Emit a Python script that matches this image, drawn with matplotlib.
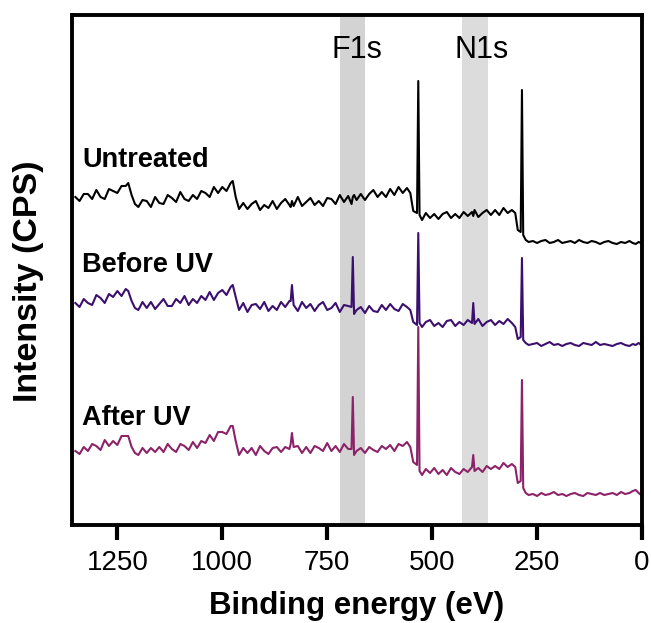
import numpy as np
import matplotlib
matplotlib.use("Agg")
import matplotlib.pyplot as plt

plt.rcParams['font.family'] = ['Liberation Sans', 'DejaVu Sans']

# Binding energy grid shared by the three survey spectra (eV)
binding_energy = [
    1350, 1340, 1330, 1320, 1310, 1300, 1290, 1280, 1270, 1260,
    1250, 1240, 1230, 1224, 1216, 1208, 1200, 1190, 1180, 1170,
    1160, 1150, 1140, 1130, 1120, 1110, 1100, 1090, 1080, 1070,
    1060, 1050, 1040, 1030, 1020, 1010, 1000, 990, 980, 975,
    968, 960, 950, 940, 930, 920, 910, 900, 890, 880,
    870, 860, 850, 840, 837, 834, 830, 820, 810, 800,
    790, 780, 770, 760, 750, 740, 730, 720, 710, 700,
    692, 689, 686, 680, 670, 660, 650, 640, 630, 620,
    610, 600, 590, 580, 570, 560, 552, 545, 536, 533,
    530, 524, 515, 505, 495, 485, 475, 465, 455, 445,
    435, 425, 415, 405, 402, 399, 390, 380, 370, 360,
    350, 340, 330, 320, 310, 302, 296, 289, 286, 283,
    277, 270, 260, 250, 240, 230, 220, 210, 200, 190,
    180, 170, 160, 150, 140, 130, 120, 110, 100, 90,
    80, 70, 60, 50, 40, 30, 22, 15, 8, 2,
]

# Stacked intensities (offset, arbitrary units)
untreated = [
    326, 322, 329, 329, 324, 333, 326, 324, 334, 332,
    330, 337, 337, 340, 328, 319, 316, 323, 322, 316,
    326, 320, 319, 328, 325, 321, 331, 324, 322, 328,
    324, 332, 330, 326, 336, 330, 336, 332, 340, 342,
    326, 314, 320, 314, 319, 322, 313, 318, 315, 322,
    314, 320, 324, 318, 316, 322, 317, 326, 317, 321,
    325, 318, 322, 317, 325, 324, 319, 328, 321, 327,
    319, 326, 328, 323, 329, 323, 329, 333, 326, 331,
    326, 334, 328, 336, 330, 335, 330, 312, 310, 442,
    308, 303, 310, 305, 309, 304, 309, 311, 305, 309,
    305, 311, 307, 311, 307, 313, 306, 310, 313, 308,
    313, 308, 315, 310, 313, 310, 293, 291, 433, 288,
    283, 281, 282, 280, 282, 283, 280, 281, 283, 280,
    281, 282, 280, 283, 281, 280, 282, 281, 279, 281,
    282, 280, 279, 281, 280, 282, 280, 279, 281, 280,
]

before_uv = [
    220, 216, 224, 220, 218, 228, 225, 220, 229, 226,
    232, 227, 234, 232, 222, 215, 213, 221, 215, 221,
    214, 219, 224, 217, 217, 224, 220, 227, 218, 224,
    220, 227, 223, 231, 223, 230, 233, 228, 236, 238,
    226, 213, 220, 211, 218, 219, 214, 221, 212, 217,
    213, 221, 216, 222, 222, 238, 218, 212, 221, 215,
    219, 212, 218, 221, 213, 215, 220, 211, 218, 217,
    216, 266, 209, 213, 216, 210, 217, 212, 211, 218,
    213, 219, 214, 212, 219, 216, 213, 201, 198, 290,
    200, 196, 201, 203, 197, 200, 196, 202, 203, 197,
    201, 198, 203, 200, 220, 199, 204, 197, 201, 203,
    198, 202, 199, 204, 200, 196, 184, 186, 265, 183,
    180, 178, 179, 180, 177, 179, 181, 178, 179, 177,
    179, 180, 178, 177, 180, 179, 178, 181, 178, 179,
    178, 177, 179, 180, 178, 177, 179, 178, 180, 178,
]

after_uv = [
    72, 69, 76, 72, 79, 77, 73, 83, 77, 82,
    78, 87, 87, 87, 76, 70, 68, 75, 70, 75,
    71, 76, 71, 79, 74, 71, 79, 77, 73, 81,
    75, 82, 80, 88, 82, 91, 91, 89, 97, 97,
    82, 68, 75, 70, 75, 68, 77, 72, 69, 75,
    76, 71, 76, 74, 79, 90, 76, 77, 70, 76,
    70, 77, 75, 72, 80, 72, 77, 71, 79, 74,
    74, 126, 68, 72, 75, 70, 76, 73, 71, 77,
    74, 78, 72, 79, 77, 81, 76, 61, 58, 196,
    52, 48, 54, 50, 55, 49, 53, 48, 55, 51,
    49, 54, 51, 56, 68, 52, 55, 51, 57, 54,
    57, 54, 60, 56, 59, 56, 40, 42, 143, 35,
    30, 28, 29, 27, 30, 28, 29, 31, 28, 29,
    27, 29, 30, 28, 27, 30, 29, 28, 30, 28,
    29, 30, 28, 31, 29, 30, 32, 33, 30, 28,
]

sample_names = ["Untreated", "Before UV", "After UV"]
sample_colors = ["black", "#3b0f6e", "#8c2369"]
label_heights = [356, 251, 98]

# Core-level regions highlighted on the survey
band_names = ["F1s", "N1s"]
band_ranges = [(720, 661), (429, 368)]
band_colors = ["#d3d3d3", "#dcdcdc"]
band_text_x = [678, 382]

assert len(binding_energy) == len(untreated) == len(before_uv) == len(after_uv)

fig = plt.figure(figsize=(6.51, 6.23), dpi=100)
ax = fig.add_axes([72 / 651, 98 / 623, 570 / 651, 510 / 623])

for (lo, hi), col, name, tx in zip(band_ranges, band_colors, band_names, band_text_x):
    ax.axvspan(lo, hi, color=col, lw=0, zorder=0)
    ax.text(tx, 465, name, fontsize=22, ha="center", va="baseline")

energy = np.array(binding_energy)
for spec, col, name, ly in zip([untreated, before_uv, after_uv], sample_colors,
                               sample_names, label_heights):
    ax.plot(energy, spec, color=col, lw=1.5, zorder=2)
    ax.text(1334, ly, name, fontsize=19.5, fontweight="bold", ha="left", va="baseline")

ax.set_xlim(1358, 0)
ax.set_ylim(-2, 508)
ax.set_xticks([1250, 1000, 750, 500, 250, 0])
ax.set_yticks([])

for sp in ax.spines.values():
    sp.set_linewidth(2.8)
ax.tick_params(axis="x", direction="out", length=11, width=3, labelsize=20, pad=7)

ax.set_xlabel("Binding energy (eV)", fontsize=22.5, fontweight="bold", labelpad=11)
ax.set_ylabel("Intensity (CPS)", fontsize=24.5, fontweight="bold")
ax.yaxis.set_label_coords(-0.049, 0.478)

fig.savefig("out.png", dpi=100)
